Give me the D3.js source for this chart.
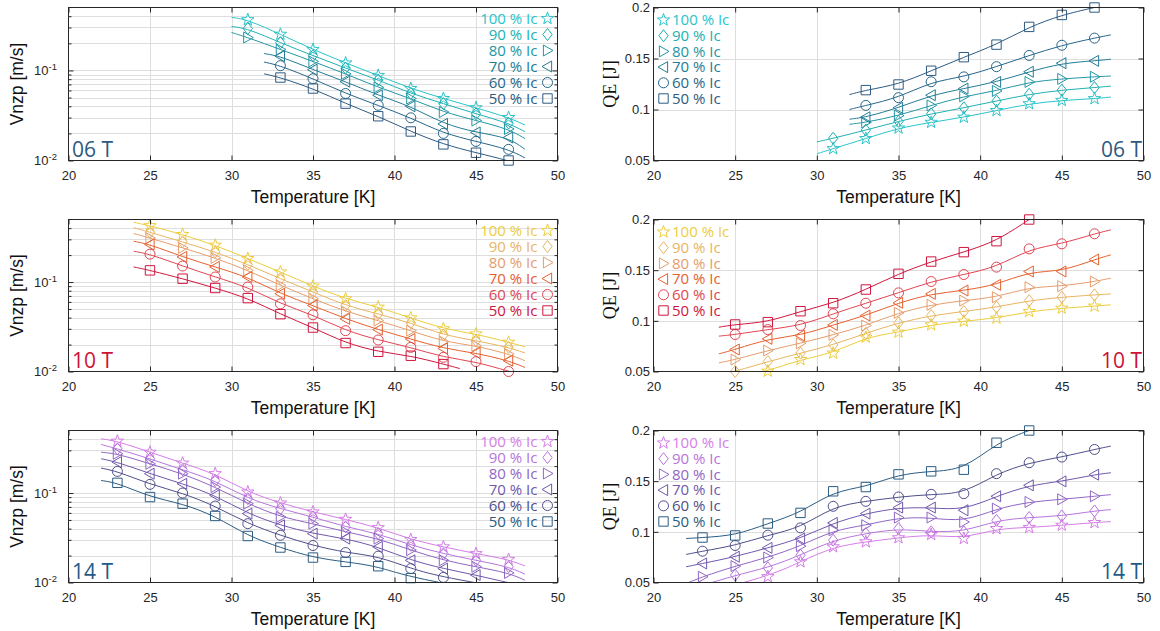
<!DOCTYPE html>
<html lang="en">
<head>
<meta charset="UTF-8">
<title>Vnzp and QE vs temperature</title>
<script src="https://cdn.jsdelivr.net/npm/d3@7"></script>
<style>
  body { margin: 0; background: #fff; }
  svg { display: block; }
</style>
</head>
<body>
<div id="chart"></div>
<script>
// marker temperatures [K] for each field
const temps06 = [31, 33, 35, 37, 39, 41, 43, 45, 47];
const temps10 = [25, 27, 29, 31, 33, 35, 37, 39, 41, 43, 45, 47];
const temps14 = [23, 25, 27, 29, 31, 33, 35, 37, 39, 41, 43, 45, 47];

const levels = ["100 % Ic", "90 % Ic", "80 % Ic", "70 % Ic", "60 % Ic", "50 % Ic"];
const shapes = ["star", "diamond", "right", "left", "circle", "square"];

// Vnzp [m/s] at 06 T (null = not measured / off scale)
const vnzp06_100 = [0.366, 0.252, 0.171, 0.121, 0.088, 0.063, 0.0488, 0.0385, 0.030];
const vnzp06_90  = [0.292, 0.203, 0.146, 0.106, 0.0785, 0.0555, 0.0428, 0.033, 0.026];
const vnzp06_80  = [0.232, 0.171, 0.126, 0.0917, 0.0649, 0.0488, 0.0345, 0.0278, 0.0224];
const vnzp06_70  = [null, 0.144, 0.102, 0.075, 0.053, 0.040, 0.0255, 0.0205, 0.018];
const vnzp06_60  = [null, 0.113, 0.081, 0.0555, 0.041, 0.0298, 0.020, 0.0163, 0.0133];
const vnzp06_50  = [null, 0.0834, 0.063, 0.0428, 0.031, 0.021, 0.0151, 0.0122, 0.010];
// fitted curve ends: [T start, value, T end, value]
const vnzp06Ends = [[30, 0.389, 48, 0.0248], [30, 0.308, 48, 0.0209], [30, 0.264, 48, 0.0175],
                    [32, 0.154, 48, 0.0133], [32, 0.124, 48, 0.0107], [32, 0.0917, 48, 0.0085]];

// QE [J] at 06 T
const qe06_100 = [0.0616, 0.0715, 0.0818, 0.0874, 0.0924, 0.099, 0.1056, 0.1089, 0.1106];
const qe06_90  = [0.0718, 0.0798, 0.0884, 0.0957, 0.1017, 0.1083, 0.115, 0.119, 0.1215];
const qe06_80  = [null, 0.0874, 0.094, 0.104, 0.1129, 0.1182, 0.127, 0.130, 0.1321];
const qe06_70  = [null, 0.0924, 0.1017, 0.114, 0.1205, 0.127, 0.137, 0.1454, 0.1477];
const qe06_60  = [null, 0.104, 0.1116, 0.1272, 0.132, 0.142, 0.153, 0.163, 0.170];
const qe06_50  = [null, 0.119, 0.1245, 0.138, 0.1513, 0.1636, 0.181, 0.1927, 0.2];
const qe06Ends = [[30, 0.0566, 48, 0.1122], [30, 0.0682, 48, 0.1229], [32, 0.0855, 48, 0.1328],
                  [32, 0.0905, 48, 0.1493], [32, 0.100, 48, 0.1732], [32, 0.1146, 47, 0.2]];

// Vnzp [m/s] at 10 T
const vnzp10_100 = [0.426, 0.340, 0.258, 0.183, 0.1295, 0.090, 0.065, 0.0524, 0.0397, 0.030, 0.0263, 0.0212];
const vnzp10_90  = [0.36, 0.281, 0.217, 0.157, 0.109, 0.0773, 0.0547, 0.044, 0.0349, 0.0256, 0.0221, 0.0186];
const vnzp10_80  = [0.31, 0.241, 0.186, 0.135, 0.0918, 0.065, 0.0468, 0.0371, 0.0286, 0.0216, 0.0194, 0.0157];
const vnzp10_70  = [0.263, 0.191, 0.1475, 0.1138, 0.074, 0.0547, 0.0387, 0.0294, 0.0231, 0.0181, 0.0161, 0.0132];
const vnzp10_60  = [0.205, 0.151, 0.1138, 0.0879, 0.0571, 0.043, 0.0286, 0.0225, 0.0186, 0.0144, 0.0129, 0.010];
const vnzp10_50  = [0.135, 0.109, 0.0857, 0.0661, 0.0437, 0.031, 0.0208, 0.0166, 0.015, 0.0121, null, null];
const vnzp10Ends = [[24, 0.465, 48, 0.0189], [24, 0.405, 48, 0.0161], [24, 0.349, 48, 0.0132],
                    [24, 0.286, 48, 0.0111], [24, 0.221, 48, 0.0092], [24, 0.1475, 44, 0.0108]];

// QE [J] at 10 T
const qe10_100 = [null, 0.0503, 0.0618, 0.0681, 0.0839, 0.0888, 0.096, 0.0997, 0.1026, 0.1092, 0.1125, 0.1145];
const qe10_90  = [0.050, 0.0598, 0.0681, 0.0763, 0.0878, 0.098, 0.1052, 0.1092, 0.1135, 0.12, 0.1233, 0.1256];
const qe10_80  = [0.0618, 0.0707, 0.0779, 0.0862, 0.0954, 0.1079, 0.1158, 0.12, 0.1233, 0.1332, 0.1342, 0.1388];
const qe10_70  = [0.0717, 0.0822, 0.0855, 0.096, 0.1052, 0.1178, 0.1266, 0.1299, 0.1355, 0.1487, 0.1487, 0.1605];
const qe10_60  = [0.0865, 0.0914, 0.0954, 0.1069, 0.1174, 0.1276, 0.1388, 0.1457, 0.153, 0.171, 0.176, 0.1859];
const qe10_50  = [0.0964, 0.0987, 0.1095, 0.1174, 0.1309, 0.1464, 0.1585, 0.1678, 0.1786, 0.2, null, null];
const qe10Ends = [[24, 0.040, 48, 0.1158], [24, 0.047, 48, 0.1266], [24, 0.0585, 48, 0.1421],
                  [24, 0.0674, 48, 0.1651], [24, 0.0849, 48, 0.1898], [24, 0.0937, 43, 0.2]];

// Vnzp [m/s] at 14 T
const vnzp14_100 = [0.380, 0.286, 0.216, 0.1645, 0.1026, 0.0773, 0.0614, 0.0508, 0.041, 0.0302, 0.025, 0.021, 0.0181];
const vnzp14_90  = [0.312, 0.2415, 0.182, 0.138, 0.0865, 0.0668, 0.054, 0.0418, 0.0352, 0.0261, 0.021, 0.0177, 0.015];
const vnzp14_80  = [0.275, 0.212, 0.1645, 0.1167, 0.076, 0.054, 0.0455, 0.0367, 0.031, 0.023, 0.0177, 0.015, 0.0128];
const vnzp14_70  = [0.222, 0.1645, 0.127, 0.0942, 0.0589, 0.0436, 0.0352, 0.031, 0.025, 0.0177, 0.0143, 0.0121, 0.0099];
const vnzp14_60  = [0.1746, 0.125, 0.1, 0.0716, 0.0455, 0.0337, 0.0259, 0.0216, 0.0197, 0.0143, 0.0114, null, null];
const vnzp14_50  = [0.130, 0.0902, 0.076, 0.0554, 0.0331, 0.0246, 0.019, 0.017, 0.0152, 0.0112, null, null, null];
const vnzp14Ends = [[22, 0.404, 48, 0.0153], [22, 0.349, 48, 0.0124], [22, 0.286, 48, 0.0106],
                    [22, 0.2415, 48, 0.0092], [22, 0.190, 48, 0.0080], [22, 0.138, 48, 0.0068]];

// QE [J] at 14 T
const qe14_100 = [null, null, 0.0557, 0.0704, 0.0852, 0.0901, 0.0941, 0.0973, 0.0934, 0.1032, 0.1042, 0.1065, 0.1091];
const qe14_90  = [null, 0.0573, 0.0645, 0.077, 0.0918, 0.0983, 0.1032, 0.1, 0.1, 0.1114, 0.1141, 0.1157, 0.1206];
const qe14_80  = [0.0557, 0.0662, 0.0747, 0.0859, 0.1016, 0.1065, 0.1141, 0.1141, 0.1098, 0.1229, 0.1295, 0.1321, 0.1351];
const qe14_70  = [0.0688, 0.0754, 0.0842, 0.0934, 0.1088, 0.118, 0.1239, 0.1239, 0.1213, 0.1351, 0.1459, 0.1498, 0.1564];
const qe14_60  = [0.0809, 0.0865, 0.0967, 0.1039, 0.1252, 0.1301, 0.1344, 0.137, 0.1377, 0.1574, 0.1682, 0.1738, 0.1813];
const qe14_50  = [0.0944, 0.0964, 0.1082, 0.1187, 0.14, 0.1442, 0.1567, 0.1597, 0.1613, 0.1879, 0.2, null, null];
const qe14Ends = [[22, 0.035, 48, 0.1101], [22, 0.042, 48, 0.1219], [22, 0.049, 48, 0.1367],
                  [22, 0.0655, 48, 0.1583], [22, 0.0777, 48, 0.1846], [22, 0.0934, 43, 0.2]];

// axis ticks
const tempTicks = [20, 25, 30, 35, 40, 45, 50];
const vnzpMajor = [0.01, 0.1];
const vnzpMinor = [0.02, 0.03, 0.04, 0.05, 0.06, 0.07, 0.08, 0.09, 0.2, 0.3, 0.4];
const qeTicks = [0.05, 0.1, 0.15, 0.2];

const colors06 = ["#2ac4c9", "#20b0b3", "#2396a4", "#237b95", "#27668a", "#2d5a81"];
const colors10 = ["#edcd3c", "#e8b563", "#e59d6c", "#e5612f", "#e04652", "#d0153e"];
const colors14 = ["#d47de6", "#b775dc", "#9066c4", "#7058ab", "#4e4f8a", "#2b5c82"];

const panels = [
    { row: 0, col: 0, kind: "log", temps: temps06, ends: vnzp06Ends, colors: colors06, tag: "06 T", tagColor: "#2d5a80",
      series: [vnzp06_100, vnzp06_90, vnzp06_80, vnzp06_70, vnzp06_60, vnzp06_50] },
    { row: 0, col: 1, kind: "lin", temps: temps06, ends: qe06Ends, colors: colors06, tag: "06 T", tagColor: "#2d5a80",
      series: [qe06_100, qe06_90, qe06_80, qe06_70, qe06_60, qe06_50] },
    { row: 1, col: 0, kind: "log", temps: temps10, ends: vnzp10Ends, colors: colors10, tag: "10 T", tagColor: "#cc1236",
      series: [vnzp10_100, vnzp10_90, vnzp10_80, vnzp10_70, vnzp10_60, vnzp10_50] },
    { row: 1, col: 1, kind: "lin", temps: temps10, ends: qe10Ends, colors: colors10, tag: "10 T", tagColor: "#cc1236",
      series: [qe10_100, qe10_90, qe10_80, qe10_70, qe10_60, qe10_50] },
    { row: 2, col: 0, kind: "log", temps: temps14, ends: vnzp14Ends, colors: colors14, tag: "14 T", tagColor: "#1f5a88",
      series: [vnzp14_100, vnzp14_90, vnzp14_80, vnzp14_70, vnzp14_60, vnzp14_50] },
    { row: 2, col: 1, kind: "lin", temps: temps14, ends: qe14Ends, colors: colors14, tag: "14 T", tagColor: "#1f5a88",
      series: [qe14_100, qe14_90, qe14_80, qe14_70, qe14_60, qe14_50] }
];

const cols = [{ x0: 68.5, x1: 557.5 }, { x0: 653.5, x1: 1143.5 }];
const rows = [{ y0: 7.5, y1: 160.5 }, { y0: 219.5, y1: 371.5 }, { y0: 430.5, y1: 582.5 }];

const sansFont = "'Liberation Sans', Arial, Helvetica, sans-serif";
const legendFont = "'Open Sans', 'Noto Sans', sans-serif";
const axisColor = "#262626";
const gridColor = "#dedede";

// MATLAB-like marker outlines, size = radius
const symbolTypes = {
    star: { draw(ctx, r) {
        for (let k = 0; k < 10; k++) {
            const a = -Math.PI / 2 + k * Math.PI / 5;
            const rr = k % 2 ? r * 0.4 : r;
            if (k) ctx.lineTo(rr * Math.cos(a), rr * Math.sin(a));
            else ctx.moveTo(rr * Math.cos(a), rr * Math.sin(a));
        }
        ctx.closePath();
    } },
    diamond: { draw(ctx, r) {
        ctx.moveTo(0, -r); ctx.lineTo(r * 0.78, 0); ctx.lineTo(0, r); ctx.lineTo(-r * 0.78, 0); ctx.closePath();
    } },
    right: { draw(ctx, r) {
        ctx.moveTo(r, 0); ctx.lineTo(-r * 0.75, -r); ctx.lineTo(-r * 0.75, r); ctx.closePath();
    } },
    left: { draw(ctx, r) {
        ctx.moveTo(-r, 0); ctx.lineTo(r * 0.75, -r); ctx.lineTo(r * 0.75, r); ctx.closePath();
    } },
    circle: { draw(ctx, r) {
        ctx.moveTo(r, 0); ctx.arc(0, 0, r, 0, 2 * Math.PI);
    } },
    square: { draw(ctx, r) {
        ctx.rect(-r, -r, 2 * r, 2 * r);
    } }
};
const symbolRadius = { star: 6.5, diamond: 6, right: 5.5, left: 5.5, circle: 5, square: 4.7 };
const marker = s => d3.symbol().type(symbolTypes[s]).size(symbolRadius[s])();

const svg = d3.select("#chart")
    .append("svg")
    .attr("width", 1160)
    .attr("height", 631);

panels.forEach((p, pi) => {
    const c = cols[p.col];
    const r = rows[p.row];
    const x = d3.scaleLinear().domain([20, 50]).range([c.x0, c.x1]);
    const y = p.kind === "log"
        ? d3.scaleLog().domain([0.01, 0.5]).range([r.y1, r.y0])
        : d3.scaleLinear().domain([0.05, 0.2]).range([r.y1, r.y0]);
    const g = svg.append("g");

    // grid
    const hLines = p.kind === "log" ? vnzpMinor.concat([0.1]) : [0.1, 0.15];
    g.selectAll(".hgrid").data(hLines).join("line")
        .attr("x1", c.x0).attr("x2", c.x1)
        .attr("y1", d => Math.round(y(d)) + 0.5).attr("y2", d => Math.round(y(d)) + 0.5)
        .attr("stroke", gridColor).attr("stroke-width", 1);
    g.selectAll(".vgrid").data(tempTicks.slice(1, -1)).join("line")
        .attr("x1", d => Math.round(x(d)) + 0.5).attr("x2", d => Math.round(x(d)) + 0.5)
        .attr("y1", r.y0).attr("y2", r.y1)
        .attr("stroke", gridColor).attr("stroke-width", 1);

    // curves and markers
    const clipId = "clip" + pi;
    svg.append("clipPath").attr("id", clipId)
        .append("rect").attr("x", c.x0).attr("y", r.y0)
        .attr("width", c.x1 - c.x0).attr("height", r.y1 - r.y0);

    const line = d3.line().x(d => x(d[0])).y(d => y(d[1])).curve(d3.curveBasis);

    p.series.forEach((vals, si) => {
        const e = p.ends[si];
        const pts = p.temps.map((t, k) => [t, vals[k]]).filter(d => d[1] !== null);
        const inner = pts.filter(d => d[0] > e[0] && d[0] < e[2]);
        const curve = [[e[0], e[1]]].concat(inner, [[e[2], e[3]]]);
        g.append("path")
            .attr("clip-path", `url(#${clipId})`)
            .attr("d", line(curve))
            .attr("fill", "none")
            .attr("stroke", p.colors[si])
            .attr("stroke-width", 1);
        const lo = y.domain()[0], hi = y.domain()[1];
        g.selectAll(null).data(pts.filter(d => d[1] >= lo * 0.999 && d[1] <= hi * 1.001)).join("path")
            .attr("transform", d => `translate(${x(d[0])},${y(d[1])})`)
            .attr("d", marker(shapes[si]))
            .attr("fill", "none")
            .attr("stroke", p.colors[si])
            .attr("stroke-width", 1);
    });

    // axes with inward ticks
    const styleAxis = sel => sel.attr("color", axisColor).attr("font-family", sansFont).attr("font-size", 13)
        .call(s => s.select(".domain").remove())
        .call(s => s.selectAll(".tick text").attr("fill", axisColor));

    g.append("g").attr("transform", `translate(0,${r.y1})`)
        .call(d3.axisBottom(x).tickValues(tempTicks).tickSize(-5).tickSizeOuter(0).tickPadding(10))
        .call(styleAxis);
    g.append("g").attr("transform", `translate(0,${r.y0})`)
        .call(d3.axisTop(x).tickValues(tempTicks).tickSize(-5).tickSizeOuter(0).tickFormat(""))
        .call(styleAxis);

    if (p.kind === "log") {
        const major = g.append("g").attr("transform", `translate(${c.x0},0)`)
            .call(d3.axisLeft(y).tickValues(vnzpMajor).tickSize(-5).tickSizeOuter(0).tickPadding(11.5)
                .tickFormat(() => "10"))
            .call(styleAxis);
        major.selectAll(".tick text").append("tspan")
            .attr("dy", "-0.5em").attr("font-size", 9.5)
            .text(d => "-" + Math.round(-Math.log10(d)));
        g.append("g").attr("transform", `translate(${c.x0},0)`)
            .call(d3.axisLeft(y).tickValues(vnzpMinor).tickSize(-3).tickSizeOuter(0).tickFormat(""))
            .call(styleAxis);
        g.append("g").attr("transform", `translate(${c.x1},0)`)
            .call(d3.axisRight(y).tickValues(vnzpMajor).tickSize(-5).tickSizeOuter(0).tickFormat(""))
            .call(styleAxis);
        g.append("g").attr("transform", `translate(${c.x1},0)`)
            .call(d3.axisRight(y).tickValues(vnzpMinor).tickSize(-3).tickSizeOuter(0).tickFormat(""))
            .call(styleAxis);
    } else {
        g.append("g").attr("transform", `translate(${c.x0},0)`)
            .call(d3.axisLeft(y).tickValues(qeTicks).tickSize(-5).tickSizeOuter(0).tickPadding(3.5)
                .tickFormat(d => String(d)))
            .call(styleAxis);
        g.append("g").attr("transform", `translate(${c.x1},0)`)
            .call(d3.axisRight(y).tickValues(qeTicks).tickSize(-5).tickSizeOuter(0).tickFormat(""))
            .call(styleAxis);
    }

    g.append("rect")
        .attr("x", c.x0).attr("y", r.y0)
        .attr("width", c.x1 - c.x0).attr("height", r.y1 - r.y0)
        .attr("fill", "none").attr("stroke", axisColor).attr("stroke-width", 1);

    // axis titles
    g.append("text")
        .attr("x", (c.x0 + c.x1) / 2).attr("y", r.y1 + 42)
        .attr("text-anchor", "middle")
        .attr("font-family", sansFont).attr("font-size", 17.5).attr("fill", "#111")
        .text("Temperature [K]");
    const ym = (r.y0 + r.y1) / 2;
    if (p.kind === "log") {
        g.append("text")
            .attr("transform", `translate(${c.x0 - 46},${ym}) rotate(-90)`)
            .attr("text-anchor", "middle")
            .attr("font-family", sansFont).attr("font-size", 17.5).attr("fill", "#111")
            .text("Vnzp [m/s]");
    } else {
        g.append("text")
            .attr("transform", `translate(${c.x0 - 38},${ym}) rotate(-90)`)
            .attr("text-anchor", "middle")
            .attr("font-family", "'Liberation Serif', 'Times New Roman', serif").attr("font-size", 18).attr("fill", "#111")
            .text("QE [J]");
    }

    // field tag
    g.append("text")
        .attr("x", p.col === 0 ? c.x0 + 3.5 : c.x1 - 1.5)
        .attr("y", r.y1 - 4)
        .attr("text-anchor", p.col === 0 ? "start" : "end")
        .attr("font-family", legendFont).attr("font-size", 21).attr("fill", p.tagColor)
        .text(p.tag);

    // legend
    const leg = g.append("g");
    levels.forEach((lab, si) => {
        const cy = p.col === 0 ? r.y0 + 11 + si * 16 : r.y0 + 12.5 + si * 15.7;
        const sx = p.col === 0 ? c.x1 - 10 : c.x0 + 10;
        leg.append("path")
            .attr("transform", `translate(${sx},${cy})`)
            .attr("d", marker(shapes[si]))
            .attr("fill", "none").attr("stroke", p.colors[si]).attr("stroke-width", 1);
        leg.append("text")
            .attr("x", p.col === 0 ? c.x1 - 20 : c.x0 + 18.5)
            .attr("y", cy + 5.2)
            .attr("text-anchor", p.col === 0 ? "end" : "start")
            .attr("font-family", legendFont).attr("font-size", 15).attr("fill", p.colors[si])
            .text(lab);
    });
});
</script>
</body>
</html>
